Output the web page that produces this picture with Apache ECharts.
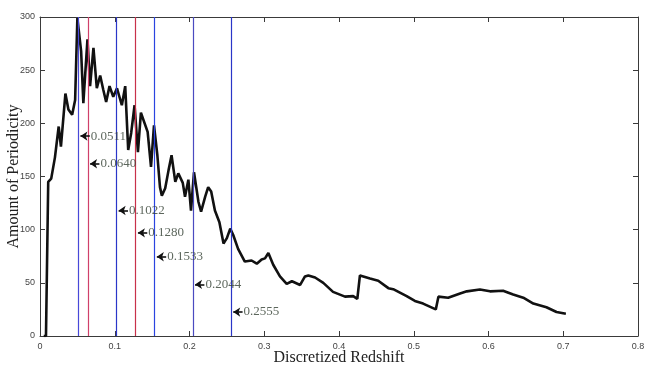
<!DOCTYPE html>
<html>
<head>
<meta charset="utf-8">
<script src="https://cdn.jsdelivr.net/npm/echarts@6/dist/echarts.min.js"></script>
<style>
  html, body { margin: 0; padding: 0; background: #fff; }
  #chart { width: 652px; height: 374px; }
</style>
</head>
<body>
<div id="chart"></div>
<script>
// redshift (x) and periodicity (y)
var redshift = [0.005, 0.008, 0.011, 0.015, 0.020, 0.025, 0.028, 0.034, 0.038, 0.043, 0.047, 0.050,
  0.055, 0.058, 0.0635, 0.067, 0.0715, 0.076, 0.0805, 0.0845, 0.0885, 0.093, 0.098, 0.103, 0.1095,
  0.114, 0.118, 0.122, 0.1265, 0.131, 0.135, 0.144, 0.1485, 0.1525, 0.157, 0.1605, 0.163, 0.1675,
  0.172, 0.176, 0.181, 0.185, 0.191, 0.194, 0.1985, 0.202, 0.206, 0.212, 0.2155, 0.221, 0.225,
  0.229, 0.234, 0.240, 0.2455, 0.250, 0.2545, 0.2585, 0.265, 0.274, 0.283, 0.290, 0.2965, 0.301,
  0.3055, 0.312, 0.321, 0.330, 0.337, 0.348, 0.3545, 0.359, 0.368, 0.379, 0.392, 0.408, 0.419,
  0.4245, 0.428, 0.4415, 0.4525, 0.466, 0.4725, 0.4905, 0.5015, 0.5125, 0.5295, 0.533, 0.546,
  0.562, 0.571, 0.5885, 0.602, 0.6195, 0.633, 0.6465, 0.660, 0.6775, 0.691, 0.7035];
var periodicity = [0, 0, 145, 148, 168, 197, 178, 228, 213, 208, 222, 299,
  268, 219, 279, 235, 271, 233, 245, 232, 220, 235, 225, 233, 217,
  235, 175, 191, 217, 173, 210, 192, 159, 198, 170, 140, 132, 139,
  156, 170, 145, 153, 144, 131, 147, 118, 154, 126, 117, 131, 140,
  136, 118, 107, 87, 92, 101, 95, 82, 70, 71, 68, 72, 73,
  78, 67, 56, 49, 51.5, 48, 56, 57, 55, 50, 41.5, 37, 37.5,
  35, 57, 54, 52, 45, 44, 37.5, 33, 30.5, 25, 37, 36,
  40, 42, 43.7, 42, 42.5, 39, 36, 30.5, 27, 22.6, 21];

// marked periods, their line colours and where the arrow labels sit
var periods = [0.0511, 0.0640, 0.1022, 0.1280, 0.1533, 0.2044, 0.2555];
var periodColors = ['#4848d8', '#d0406a', '#2a36c8', '#c8304a', '#2a44e0', '#4a4ac0', '#2a36c8'];
var labelLevels = [188, 162, 118, 97, 74.5, 48.5, 22.5];

var xTicks = { min: 0, max: 0.8, interval: 0.1 };
var yTicks = { min: 0, max: 300, interval: 50 };

var curve = redshift.map(function (x, i) { return [x, periodicity[i]]; });

var myChart = echarts.init(document.getElementById('chart'));

var frameColor = '#3a3a3a';
var tickLabel = { color: '#444', fontSize: 9, fontFamily: 'Liberation Sans' };

function baseX(pos, showLabel) {
  return {
    type: 'value', position: pos, min: xTicks.min, max: xTicks.max, interval: xTicks.interval,
    axisLine: { show: true, onZero: false, lineStyle: { color: frameColor, width: 1 } },
    axisTick: { show: true, inside: true, length: 5, lineStyle: { color: frameColor } },
    axisLabel: Object.assign({ show: showLabel, margin: 6, formatter: function (v) { return v === 0 ? '0' : +v.toFixed(1); } }, tickLabel),
    splitLine: { show: false }
  };
}
function baseY(pos, showLabel) {
  return {
    type: 'value', position: pos, min: yTicks.min, max: yTicks.max, interval: yTicks.interval,
    axisLine: { show: true, onZero: false, lineStyle: { color: frameColor, width: 1 } },
    axisTick: { show: true, inside: true, length: 5, lineStyle: { color: frameColor } },
    axisLabel: Object.assign({ show: showLabel, margin: 5 }, tickLabel),
    splitLine: { show: false }
  };
}

var xMain = baseX('bottom', true);
xMain.name = 'Discretized Redshift';
xMain.nameLocation = 'middle';
xMain.nameGap = 14;
xMain.nameMoveOverlap = false;
xMain.nameTextStyle = { fontFamily: 'Liberation Serif', fontSize: 16, color: '#222', verticalAlign: 'top' };

var yMain = baseY('left', true);
yMain.name = 'Amount of Periodicity';
yMain.nameLocation = 'middle';
yMain.nameGap = 18;
yMain.nameMoveOverlap = false;
yMain.nameTextStyle = { fontFamily: 'Liberation Serif', fontSize: 16, color: '#222' };

var arrowLen = 0.0155;

var option = {
  animation: false,
  grid: { left: 40, right: 14, top: 17, bottom: 38, containLabel: false, outerBoundsMode: 'none' },
  xAxis: [xMain, baseX('top', false)],
  yAxis: [yMain, baseY('right', false)],
  series: [
    {
      // vertical period lines
      type: 'line', data: [], silent: true,
      markLine: {
        symbol: 'none', silent: true, animation: false,
        label: { show: false },
        data: periods.map(function (p, i) {
          var st = { color: periodColors[i], width: 1.2, type: 'solid' };
          return [{ coord: [p, yTicks.min], lineStyle: st }, { coord: [p, yTicks.max] }];
        })
      }
    },
    {
      type: 'line', data: curve, showSymbol: false, z: 3,
      lineStyle: { color: '#111', width: 2.6 },
      itemStyle: { color: '#111' }
    },
    {
      // arrows pointing at the lines
      type: 'line', data: [], silent: true, z: 4,
      markLine: {
        symbol: ['none', 'arrow'], symbolSize: [7, 7], silent: true, animation: false,
        label: { show: false },
        lineStyle: { color: '#111', width: 1.6, type: 'solid' },
        data: periods.map(function (p, i) {
          return [{ coord: [p + arrowLen, labelLevels[i]] }, { coord: [p + 0.003, labelLevels[i]] }];
        })
      }
    },
    {
      type: 'scatter', symbolSize: 0, silent: true, z: 5,
      data: periods.map(function (p, i) { return [p + arrowLen, labelLevels[i], p.toFixed(4)]; }),
      label: {
        show: true, position: 'right', distance: 1,
        fontFamily: 'Liberation Serif', fontSize: 13, color: '#334033',
        formatter: function (d) { return d.value[2]; }
      }
    }
  ]
};
myChart.setOption(option);
</script>
</body>
</html>
